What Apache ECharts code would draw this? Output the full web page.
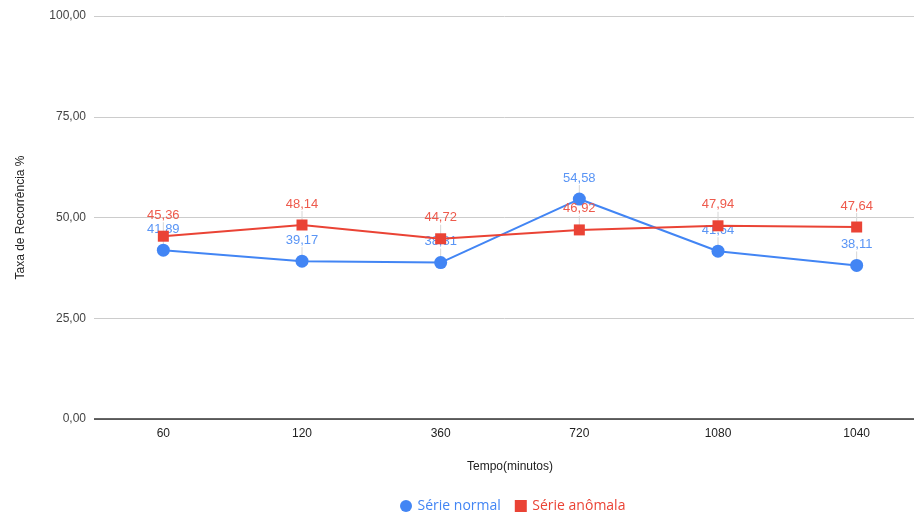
<!DOCTYPE html>
<html>
<head>
<meta charset="utf-8">
<script src="https://cdn.jsdelivr.net/npm/echarts@6/dist/echarts.min.js"></script>
<style>
  html, body { margin: 0; padding: 0; background: #fff; }
  #chart { width: 914px; height: 515px; }
</style>
</head>
<body>
<div id="chart"></div>
<script>
// Tempo (minutos)
const categories = ['60', '120', '360', '720', '1080', '1040'];
// Taxa de recorrência (%)
const serieNormal = [41.89, 39.17, 38.81, 54.58, 41.64, 38.11];
const serieAnomala = [45.36, 48.14, 44.72, 46.92, 47.94, 47.64];
const yTicks = [0, 25, 50, 75, 100];

const BLUE = '#4285F4';
const RED = '#EA4335';
const FONT = 'Arial, "Liberation Sans", sans-serif';

const fmt = v => v.toFixed(2).replace('.', ',');

const chart = echarts.init(document.getElementById('chart'), null, { renderer: 'canvas' });

// thin grey stem from each value label down to its point
function stemSeries(values, z) {
  return {
    type: 'custom',
    silent: true,
    z: z,
    data: values.map((v, i) => [i, v]),
    renderItem: (params, api) => {
      const p = api.coord([api.value(0), api.value(1)]);
      return {
        type: 'line',
        shape: { x1: p[0], y1: p[1] - 14, x2: p[0], y2: p[1] },
        style: { stroke: '#d6d6d6', lineWidth: 1 }
      };
    },
    tooltip: { show: false }
  };
}

chart.setOption({
  animation: false,
  textStyle: { fontFamily: FONT },
  // the plot band runs a little past the right edge of the canvas
  grid: { left: 94, width: 832, top: 16, height: 403, containLabel: false, outerBoundsMode: 'none' },
  xAxis: {
    type: 'category',
    data: categories,
    boundaryGap: true,
    name: 'Tempo(minutos)',
    nameLocation: 'middle',
    nameGap: 42,
    nameTextStyle: { color: '#222', fontSize: 12, fontFamily: FONT },
    axisLine: { show: false },
    axisTick: { show: false },
    axisLabel: { color: '#222', fontSize: 12, margin: 9, fontFamily: FONT },
    splitLine: { show: false }
  },
  yAxis: {
    type: 'value',
    min: yTicks[0],
    max: yTicks[yTicks.length - 1],
    interval: 25,
    name: 'Taxa de Recorrência %',
    nameLocation: 'middle',
    nameGap: 67,
    nameTextStyle: { color: '#222', fontSize: 12, fontFamily: FONT },
    axisLine: { show: false },
    axisTick: { show: false },
    axisLabel: { color: '#444', fontSize: 12, margin: 8, formatter: v => fmt(v), fontFamily: FONT },
    splitLine: { lineStyle: { color: '#cccccc', width: 1 } }
  },
  legend: {
    top: 494,
    left: 395,
    itemGap: 14,
    itemWidth: 13,
    itemHeight: 12,
    textStyle: { fontSize: 14, fontFamily: '"Open Sans", sans-serif' },
    data: [
      { name: 'Série normal', icon: 'circle', textStyle: { color: BLUE } },
      { name: 'Série anômala', icon: 'path://M0,0H10V10H0Z', textStyle: { color: RED } }
    ]
  },
  series: [
    stemSeries(serieNormal, 1),
    stemSeries(serieAnomala, 1),
    {
      // zero baseline
      type: 'line',
      data: [],
      markLine: {
        silent: true,
        symbol: 'none',
        label: { show: false },
        lineStyle: { color: '#333', width: 1.5, type: 'solid' },
        data: [{ yAxis: 0 }]
      }
    },
    {
      name: 'Série normal',
      type: 'line',
      z: 3,
      data: serieNormal,
      symbol: 'circle',
      symbolSize: 13,
      lineStyle: { color: BLUE, width: 2 },
      itemStyle: { color: BLUE },
      label: {
        show: true,
        position: 'top',
        distance: 8,
        color: '#5a95f5',
        fontSize: 13,
        fontFamily: FONT,
        formatter: p => fmt(p.value)
      }
    },
    {
      name: 'Série anômala',
      type: 'line',
      z: 4,
      data: serieAnomala,
      symbol: 'rect',
      symbolSize: 11,
      lineStyle: { color: RED, width: 2 },
      itemStyle: { color: RED },
      label: {
        show: true,
        position: 'top',
        distance: 9,
        color: '#ee5a4c',
        fontSize: 13,
        fontFamily: FONT,
        formatter: p => fmt(p.value)
      }
    }
  ]
});
</script>
</body>
</html>
